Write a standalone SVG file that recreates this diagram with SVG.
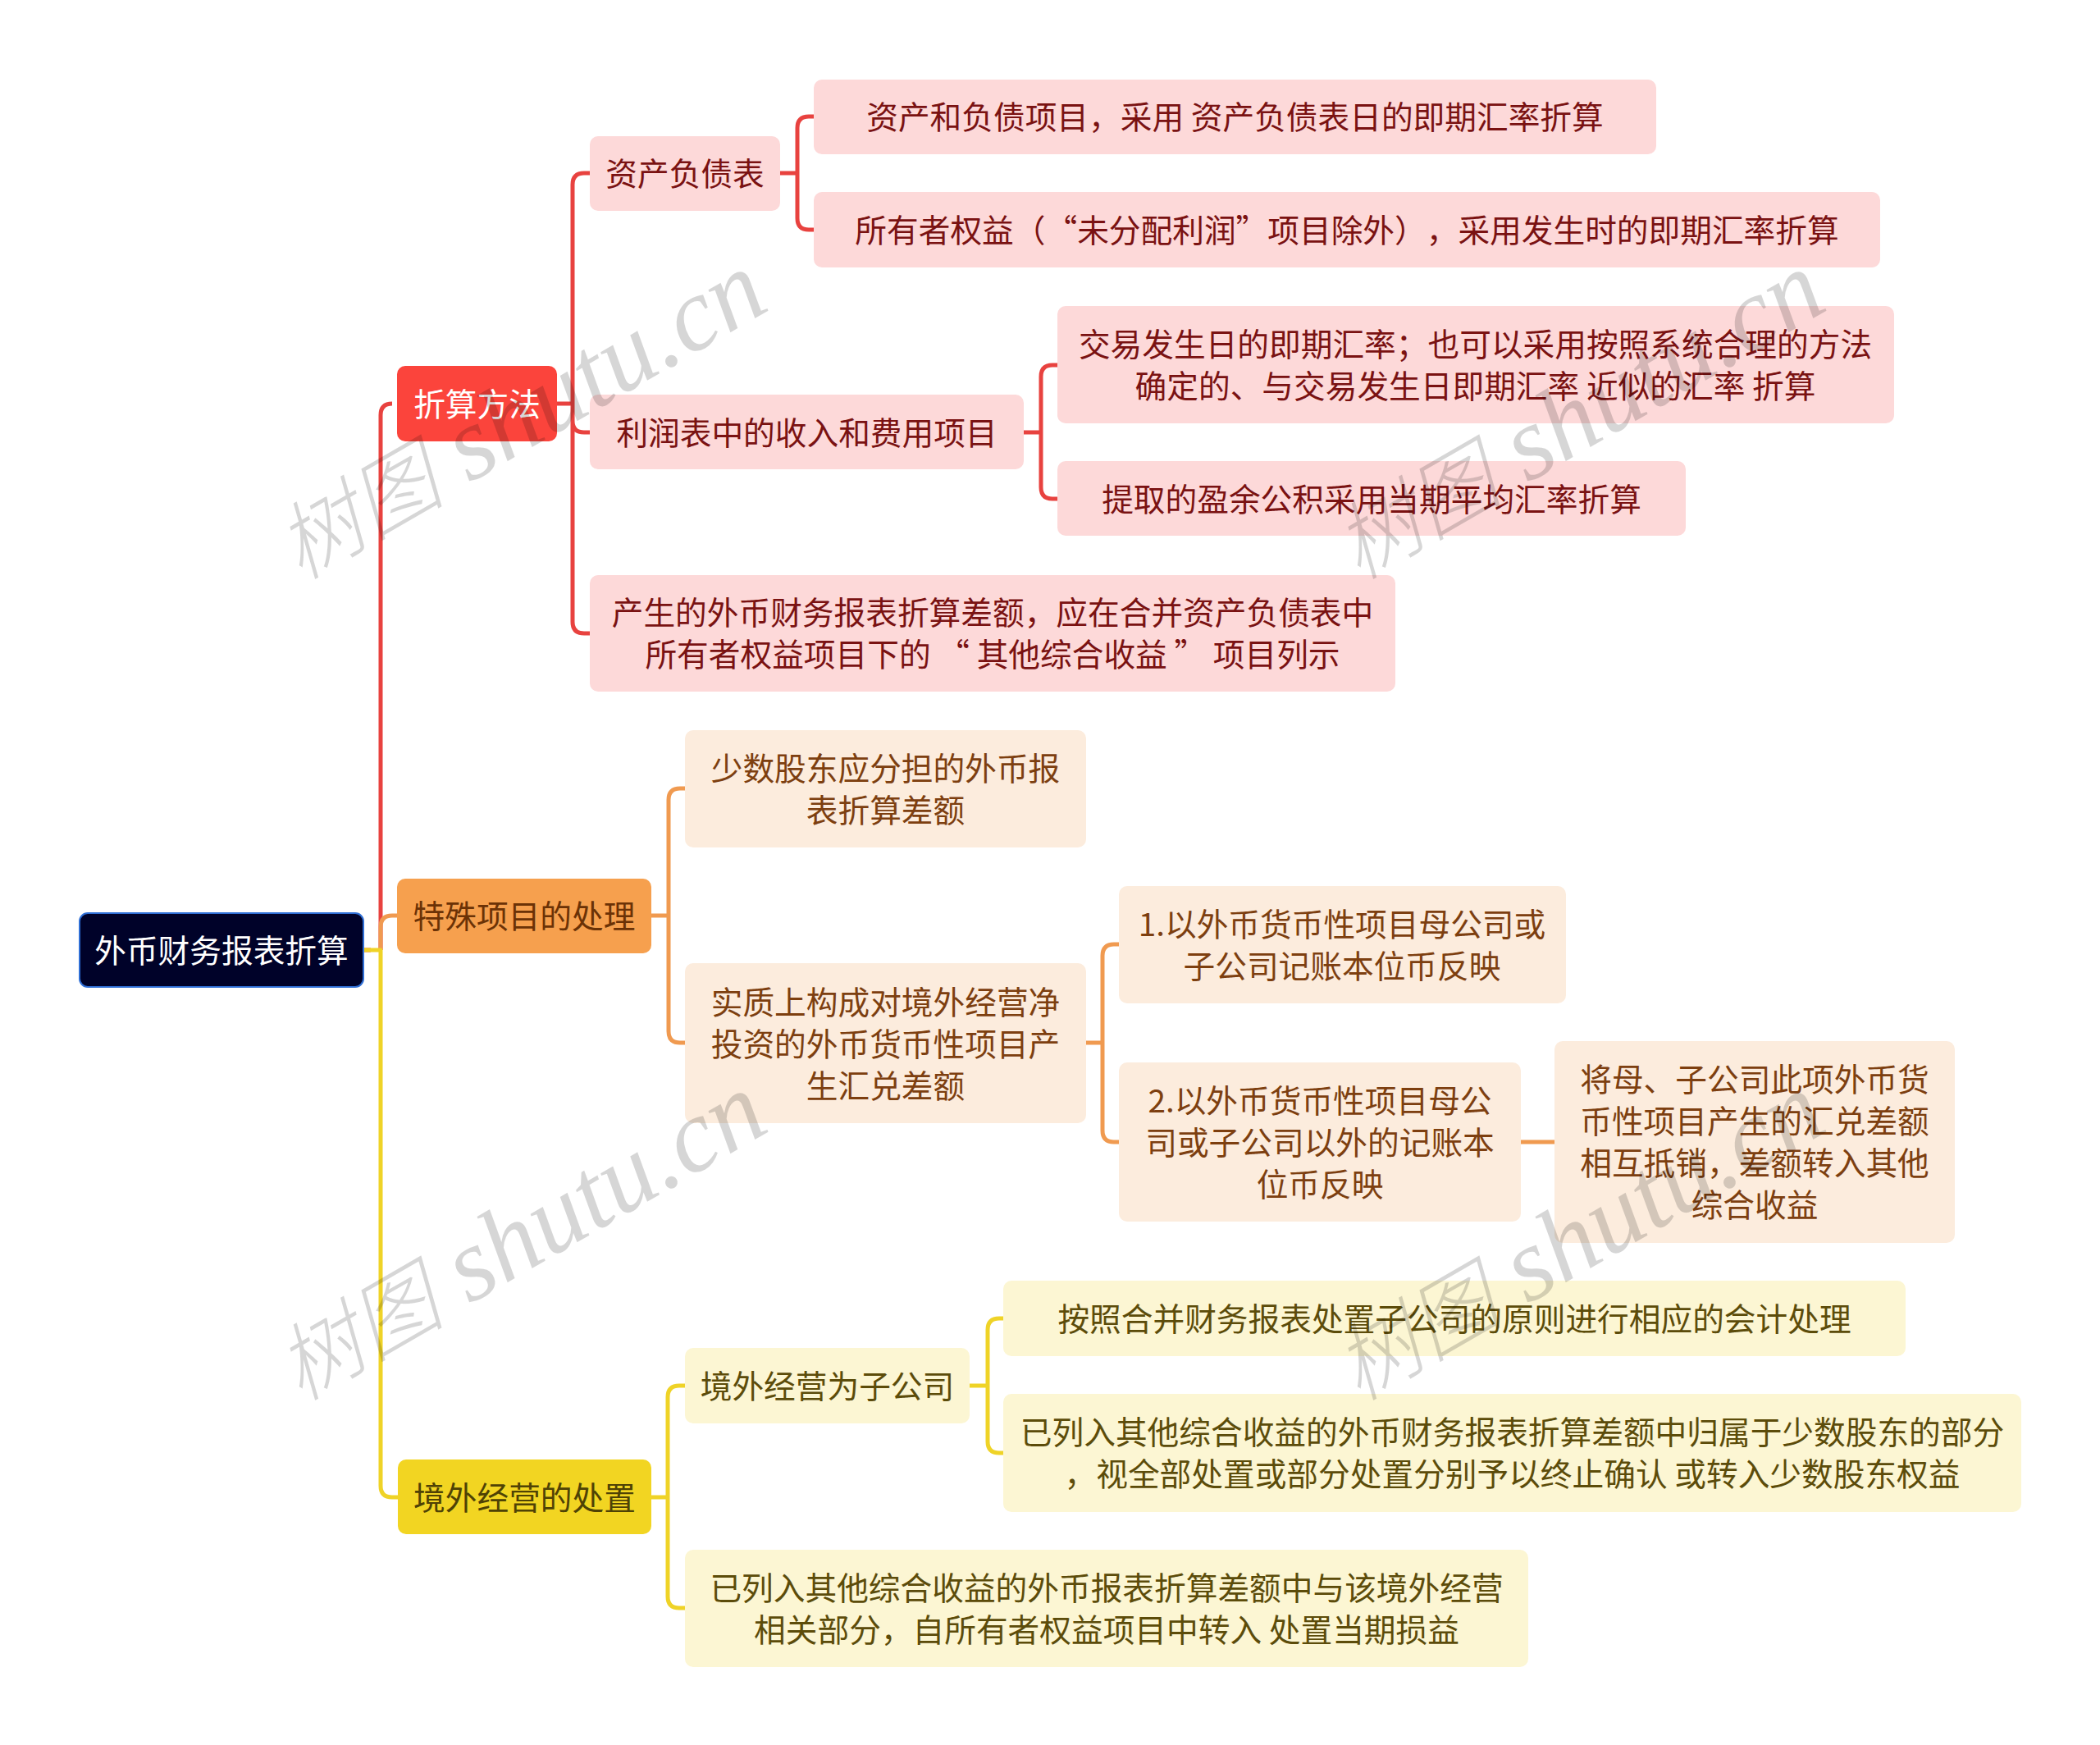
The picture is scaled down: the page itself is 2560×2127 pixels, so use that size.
<svg xmlns="http://www.w3.org/2000/svg" width="2560" height="2127" viewBox="0 0 2560 2127">
<style>
text{font-family:"Noto Sans CJK SC","Liberation Sans",sans-serif;font-size:38.7px;text-anchor:middle;text-spacing-trim:space-all;font-feature-settings:"chws" 0,"palt" 0}
.c{fill:none;stroke-width:5;stroke-linejoin:round}
.cr{stroke:#e8423f}.co{stroke:#f09a50}.cy{stroke:#efd327}
.r{fill:#fdd9d9}.rt{fill:#7a1212}
.o{fill:#fcecdd}.ot{fill:#7d3f10}
.y{fill:#fcf6d3}.yt{fill:#5c4c0a}
.wm{font-family:"Liberation Serif","Noto Sans CJK SC",serif;font-style:italic;font-size:127px;text-anchor:start;fill:#000;fill-opacity:.16}
.wc{font-family:"Noto Sans CJK SC",serif;font-size:103px;font-weight:300}
</style>
<rect width="2560" height="2127" fill="#fff"/>
<g transform="translate(0 1)">
<g id="connectors">
<path class="c cr" d="M443 1157H452M478 491Q464 491 464 505V1157"/>
<path class="c cr" d="M679 491H698M719 210H712Q698 210 698 224V757Q698 771 712 771H719M698 512Q698 526 712 526H719"/>
<path class="c cr" d="M951 210H972M992 141H986Q972 141 972 155V265Q972 279 986 279H992"/>
<path class="c cr" d="M1248 526H1269M1289 444H1283Q1269 444 1269 458V593Q1269 607 1283 607H1289"/>
<path class="c co" d="M464 1157V1129Q464 1115 478 1115H484"/>
<path class="c co" d="M794 1115H815M835 960H829Q815 960 815 974V1256Q815 1270 829 1270H835"/>
<path class="c co" d="M1324 1270H1344M1364 1150H1358Q1344 1150 1344 1164V1377Q1344 1391 1358 1391H1364"/>
<path class="c co" d="M1854 1391H1895"/>
<path class="c cy" d="M443 1157H464V1810Q464 1824 478 1824H485"/>
<path class="c cy" d="M794 1824H814M835 1688H828Q814 1688 814 1702V1945Q814 1959 828 1959H835"/>
<path class="c cy" d="M1182 1688H1204M1223 1606H1218Q1204 1606 1204 1620V1756Q1204 1770 1218 1770H1223"/>
</g>
<g id="root"><rect x="97" y="1112" width="346" height="90" rx="10" fill="#000229" stroke="#2f6fd6" stroke-width="2"/><text x="270" y="1172" fill="#fff">外币财务报表折算</text></g>
<g id="n1"><rect x="484" y="445" width="195" height="92" rx="10" fill="#fb443c"/><text x="581.500" y="506" fill="#fff">折算方法</text></g>
<g id="n2"><rect x="484" y="1070" width="310" height="91" rx="10" fill="#f6a04e"/><text x="639" y="1130" fill="#6b3206">特殊项目的处理</text></g>
<g id="n3"><rect x="485" y="1778" width="309" height="91" rx="10" fill="#f2d522"/><text x="639.500" y="1839" fill="#4f4205">境外经营的处置</text></g>
<g id="n11"><rect class="r" x="719" y="165" width="232" height="91" rx="10"/><text class="rt" x="835" y="225">资产负债表</text></g>
<g id="n111"><rect class="r" x="992" y="96" width="1027" height="91" rx="10"/><text class="rt" x="1505.500" y="156">资产和负债项目，采用 资产负债表日的即期汇率折算</text></g>
<g id="n112"><rect class="r" x="992" y="233" width="1300" height="92" rx="10"/><text class="rt" x="1642" y="294">所有者权益（“未分配利润”项目除外），采用发生时的即期汇率折算</text></g>
<g id="n12"><rect class="r" x="719" y="480" width="529" height="91" rx="10"/><text class="rt" x="983.500" y="541">利润表中的收入和费用项目</text></g>
<g id="n121"><rect class="r" x="1289" y="372" width="1020" height="143" rx="10"/><text class="rt" x="1798.500" y="433">交易发生日的即期汇率；也可以采用按照系统合理的方法</text><text class="rt" x="1798.500" y="484">确定的、与交易发生日即期汇率 近似的汇率 折算</text></g>
<g id="n122"><rect class="r" x="1289" y="561" width="766" height="91" rx="10"/><text class="rt" x="1672" y="622">提取的盈余公积采用当期平均汇率折算</text></g>
<g id="n13"><rect class="r" x="719" y="700" width="982" height="142" rx="10"/><text class="rt" x="1210" y="760">产生的外币财务报表折算差额，应在合并资产负债表中</text><text class="rt" x="1210" y="811">所有者权益项目下的 “ 其他综合收益 ” 项目列示</text></g>
<g id="n21"><rect class="o" x="835" y="889" width="489" height="143" rx="10"/><text class="ot" x="1079.500" y="950">少数股东应分担的外币报</text><text class="ot" x="1079.500" y="1001">表折算差额</text></g>
<g id="n22"><rect class="o" x="835" y="1173" width="489" height="195" rx="10"/><text class="ot" x="1079.500" y="1235">实质上构成对境外经营净</text><text class="ot" x="1079.500" y="1286">投资的外币货币性项目产</text><text class="ot" x="1079.500" y="1337">生汇兑差额</text></g>
<g id="n221"><rect class="o" x="1364" y="1079" width="545" height="143" rx="10"/><text class="ot" x="1636" y="1140">1.以外币货币性项目母公司或</text><text class="ot" x="1636" y="1191">子公司记账本位币反映</text></g>
<g id="n222"><rect class="o" x="1364" y="1294" width="490" height="194" rx="10"/><text class="ot" x="1609" y="1355">2.以外币货币性项目母公</text><text class="ot" x="1609" y="1406">司或子公司以外的记账本</text><text class="ot" x="1609" y="1457">位币反映</text></g>
<g id="n2221"><rect class="o" x="1895" y="1268" width="488" height="246" rx="10"/><text class="ot" x="2139" y="1329">将母、子公司此项外币货</text><text class="ot" x="2139" y="1380">币性项目产生的汇兑差额</text><text class="ot" x="2139" y="1431">相互抵销，差额转入其他</text><text class="ot" x="2139" y="1482">综合收益</text></g>
<g id="n31"><rect class="y" x="835" y="1642" width="347" height="92" rx="10"/><text class="yt" x="1008.500" y="1703">境外经营为子公司</text></g>
<g id="n311"><rect class="y" x="1223" y="1560" width="1100" height="92" rx="10"/><text class="yt" x="1773" y="1621">按照合并财务报表处置子公司的原则进行相应的会计处理</text></g>
<g id="n312"><rect class="y" x="1223" y="1698" width="1241" height="144" rx="10"/><text class="yt" x="1843.500" y="1759">已列入其他综合收益的外币财务报表折算差额中归属于少数股东的部分</text><text class="yt" x="1843.500" y="1810">，视全部处置或部分处置分别予以终止确认 或转入少数股东权益</text></g>
<g id="n32"><rect class="y" x="835" y="1888" width="1028" height="143" rx="10"/><text class="yt" x="1349" y="1949">已列入其他综合收益的外币报表折算差额中与该境外经营</text><text class="yt" x="1349" y="2000">相关部分，自所有者权益项目中转入 处置当期损益</text></g>
</g>
<g id="watermarks">
<text class="wm" transform="translate(366 708) rotate(-30)"><tspan class="wc">树图</tspan> shutu.cn</text>
<text class="wm" transform="translate(1656 708) rotate(-30)"><tspan class="wc">树图</tspan> shutu.cn</text>
<text class="wm" transform="translate(366 1709) rotate(-30)"><tspan class="wc">树图</tspan> shutu.cn</text>
<text class="wm" transform="translate(1656 1709) rotate(-30)"><tspan class="wc">树图</tspan> shutu.cn</text>
</g>
</svg>
